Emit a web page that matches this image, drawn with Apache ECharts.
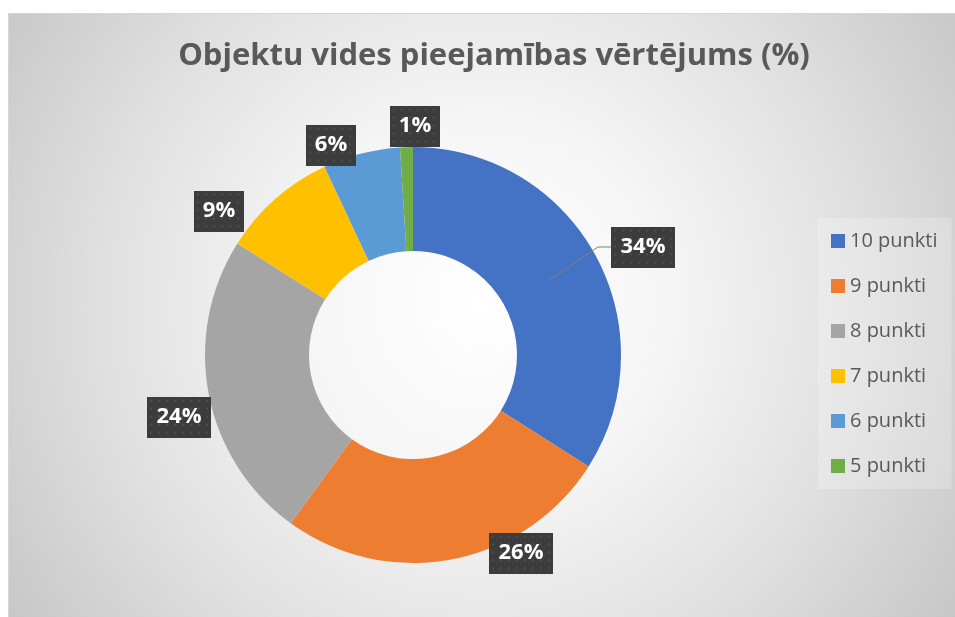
<!DOCTYPE html>
<html>
<head>
<meta charset="utf-8">
<title>Objektu vides pieejamības vērtējums</title>
<script src="https://cdn.jsdelivr.net/npm/echarts@6/dist/echarts.min.js"></script>
<style>
    html, body {
        margin: 0;
        padding: 0;
        background: #ffffff;
        overflow: hidden;
    }
    .panel {
        position: absolute;
        left: 8px;
        top: 13px;
        width: 960px;
        height: 620px;
        border-top: 1px solid #d6d6d6;
        border-left: 1px solid #d6d6d6;
        background: radial-gradient(circle farthest-corner at 472px 290px, #ffffff 0%, #f5f5f5 32%, #e1e1e1 63%, #c4c4c4 100%);
    }
    #chart {
        position: absolute;
        left: 0;
        top: 0;
        width: 955px;
        height: 617px;
    }
</style>
</head>
<body>
<div class="panel"></div>
<div id="chart"></div>
<script>
    const titleText = 'Objektu vides pieejamības vērtējums (%)';
    const categories = ['10 punkti', '9 punkti', '8 punkti', '7 punkti', '6 punkti', '5 punkti'];
    const values = [34, 26, 24, 9, 6, 1];
    const colors = ['#4472C4', '#ED7D31', '#A5A5A5', '#FFC000', '#5B9BD5', '#70AD47'];

    const pieCenter = [413, 355];
    const pieRadius = [104, 208];

    // where excel put each label box (centre)
    const labelSpots = [[643, 247], [521, 553], [179, 417], [219, 211], [331, 145], [415, 126]];

    // dark box with the little dot texture
    function makeTile(w, h) {
        const c = document.createElement('canvas');
        c.width = w;
        c.height = h;
        const ctx = c.getContext('2d');
        ctx.fillStyle = '#3c3c3c';
        ctx.fillRect(0, 0, w, h);
        ctx.fillStyle = '#4c4c4c';
        for (let y = 3; y < h; y += 8) {
            for (let x = 3; x < w; x += 8) {
                ctx.fillRect(x, y, 2, 2);
            }
        }
        return c;
    }
    const wideTile = makeTile(64, 41);
    const narrowTile = makeTile(50, 41);

    const pieData = values.map(function (v, i) {
        const wide = String(v).length > 1;
        return {
            name: categories[i],
            value: v,
            itemStyle: { color: colors[i] },
            label: {
                width: wide ? 48 : 34,
                backgroundColor: { image: wide ? wideTile : narrowTile }
            }
        };
    });

    // leader line of the first slice: starts mid-ring at the middle of the slice
    const total = values.reduce(function (a, b) { return a + b; }, 0);
    const midAngle = (values[0] / 2) / total * Math.PI * 2;
    const midR = (pieRadius[0] + pieRadius[1]) / 2;
    const lineStart = [pieCenter[0] + midR * Math.sin(midAngle), pieCenter[1] - midR * Math.cos(midAngle)];
    const boxLeft = labelSpots[0][0] - 32;
    const leaderLine = [lineStart, [boxLeft - 13, labelSpots[0][1]], [boxLeft, labelSpots[0][1]]];

    const chart = echarts.init(document.getElementById('chart'), null, { renderer: 'canvas' });

    const option = {
        animation: false,
        backgroundColor: 'transparent',
        title: {
            text: titleText,
            left: 494,
            top: 41,
            textAlign: 'center',
            padding: 0,
            textStyle: {
                fontFamily: 'Open Sans',
                fontWeight: 'bold',
                fontSize: 31,
                color: '#595959'
            }
        },
        legend: {
            orient: 'vertical',
            left: 818,
            top: 218,
            padding: [13, 14, 13, 13],
            backgroundColor: 'rgba(255,255,255,0.22)',
            itemWidth: 14,
            itemHeight: 14,
            itemGap: 25,
            icon: 'rect',
            data: categories,
            textStyle: {
                fontFamily: 'Open Sans',
                fontSize: 20,
                lineHeight: 20,
                color: '#595959'
            }
        },
        graphic: [{
            type: 'polyline',
            z: 100,
            shape: { points: leaderLine },
            style: { stroke: '#7f7f7f', lineWidth: 1, fill: null }
        }],
        series: [{
            type: 'pie',
            center: pieCenter,
            radius: pieRadius,
            startAngle: 90,
            clockwise: true,
            avoidLabelOverlap: false,
            label: {
                show: true,
                position: 'outside',
                formatter: '{c}%',
                overflow: 'none',
                fontFamily: 'Open Sans',
                fontWeight: 'bold',
                fontSize: 22,
                lineHeight: 23,
                color: '#ffffff',
                align: 'center',
                padding: [9, 8],
                shadowColor: 'rgba(0,0,0,0.45)',
                shadowBlur: 6,
                shadowOffsetX: 3,
                shadowOffsetY: 3
            },
            labelLine: { show: false },
            labelLayout: function (params) {
                const spot = labelSpots[params.dataIndex];
                return {
                    x: spot[0],
                    y: spot[1],
                    align: 'center',
                    verticalAlign: 'middle'
                };
            },
            emphasis: { disabled: true },
            data: pieData
        }]
    };

    chart.setOption(option);
</script>
</body>
</html>
